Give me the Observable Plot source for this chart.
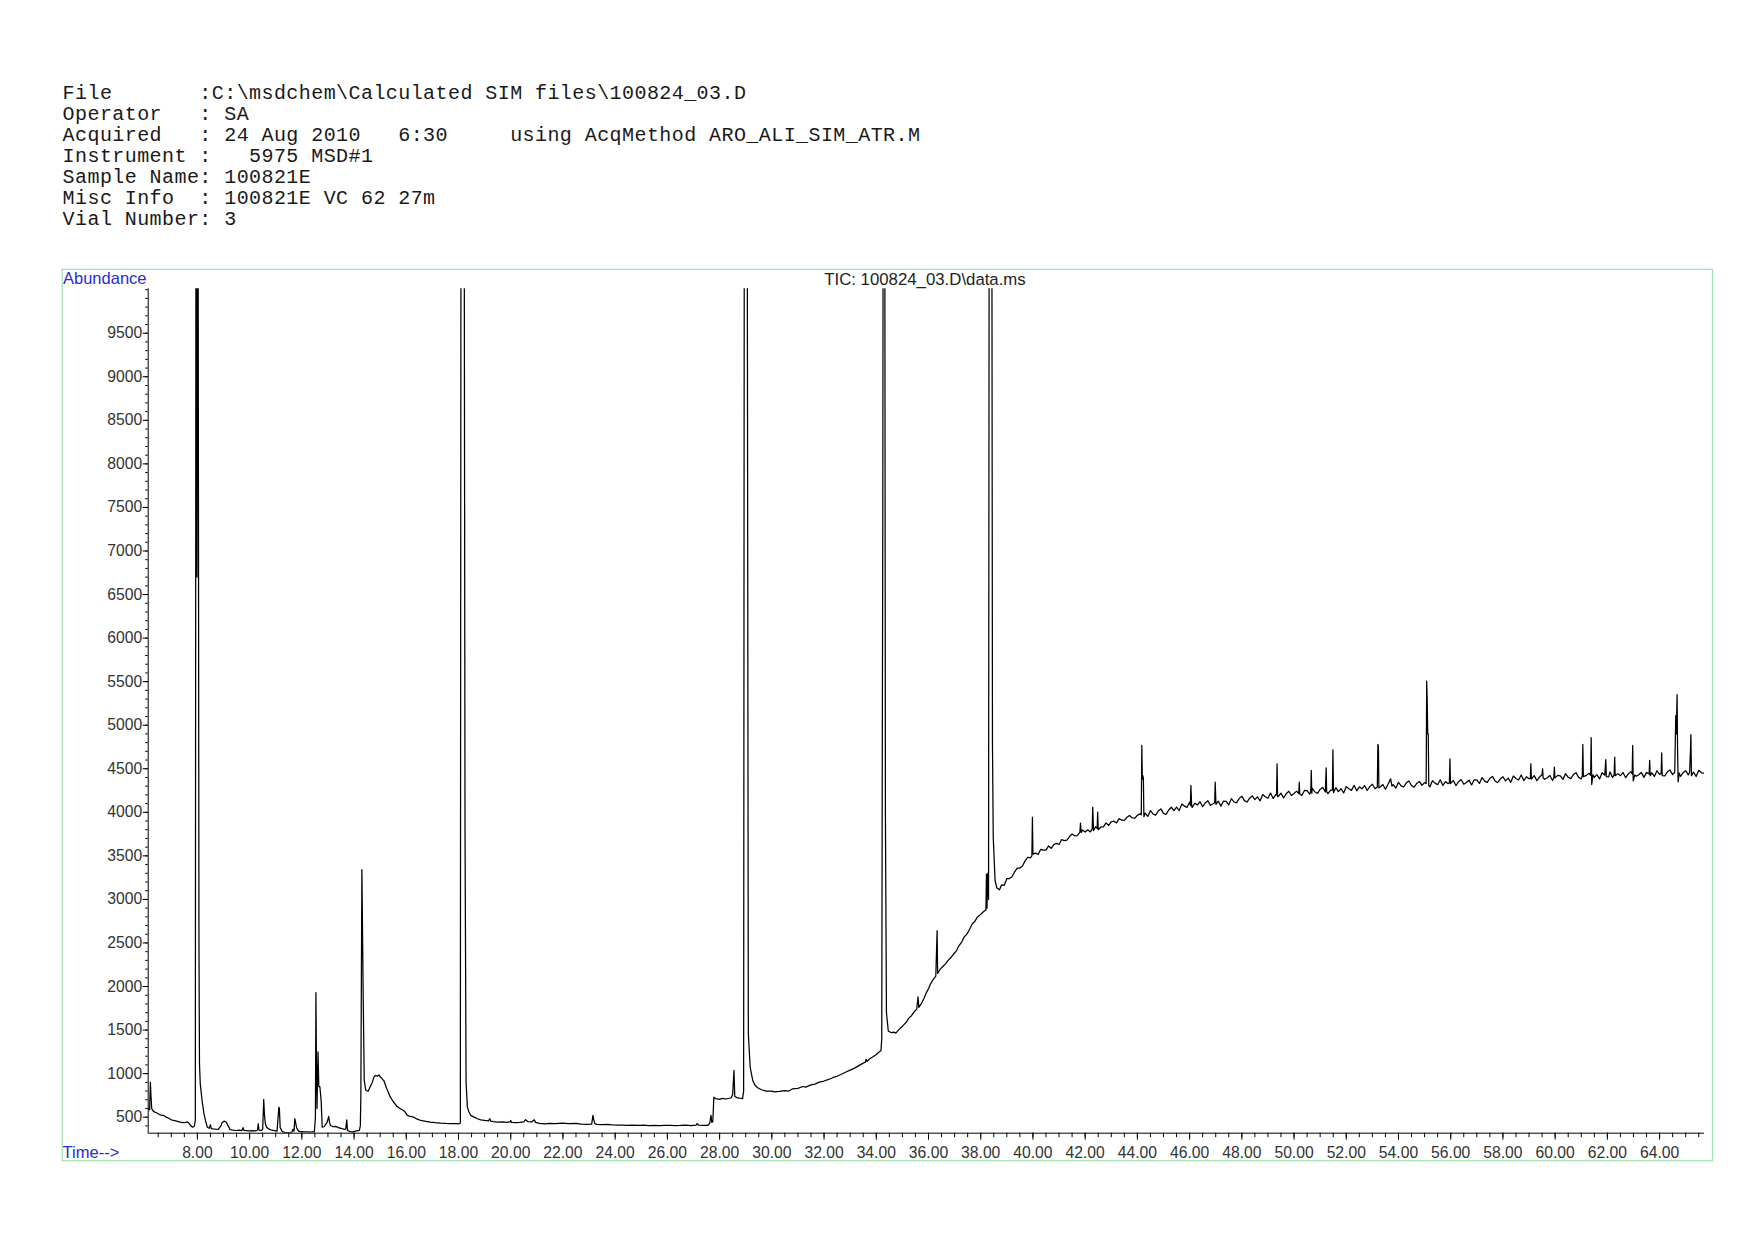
<!DOCTYPE html>
<html>
<head>
<meta charset="utf-8">
<script src="https://cdn.jsdelivr.net/npm/d3@7"></script>
<script src="https://cdn.jsdelivr.net/npm/@observablehq/plot@0.6"></script>
<style>
  html, body { margin: 0; padding: 0; background: #fff; }
  #page { position: relative; width: 1754px; height: 1240px; overflow: hidden; background: #fff; }
  #chart, #overlay { position: absolute; left: 0; top: 0; }
</style>
</head>
<body>
<div id="page">
  <div id="chart"></div>
  <svg id="overlay" width="1754" height="1240"></svg>
</div>
<script>
// ---- header text lines ----
const headerLines = [
  "File       :C:\\msdchem\\Calculated SIM files\\100824_03.D",
  "Operator   : SA",
  "Acquired   : 24 Aug 2010   6:30     using AcqMethod ARO_ALI_SIM_ATR.M",
  "Instrument :   5975 MSD#1",
  "Sample Name: 100821E",
  "Misc Info  : 100821E VC 62 27m",
  "Vial Number: 3"
];
const chartTitle = "TIC: 100824_03.D\\data.ms";
const yAxisName = "Abundance";
const xAxisName = "Time-->";

// ---- axis ticks ----
const xDomain = [6.116, 65.72];
const yDomain = [316, 10010];
const majorX = [8, 10, 12, 14, 16, 18, 20, 22, 24, 26, 28, 30, 32, 34, 36, 38, 40, 42, 44, 46, 48, 50, 52, 54, 56, 58, 60, 62, 64];
const majorY = [500, 1000, 1500, 2000, 2500, 3000, 3500, 4000, 4500, 5000, 5500, 6000, 6500, 7000, 7500, 8000, 8500, 9000, 9500];
const minorX = d3.range(6.5, 65.6, 0.5);
const minorY = d3.range(400, 10001, 100);

// ---- TIC trace: [time (min), abundance] ----
const traceEarly = [
  [6.12,596],[6.17,585],[6.2,902],[6.22,760],[6.25,600],[6.29,577],[6.35,560],[6.45,548],[6.55,530],[6.62,522],
  [6.71,520],[6.8,500],[6.9,488],[7.0,470],[7.1,462],[7.2,455],[7.3,447],[7.35,443],[7.45,438],[7.55,440],
  [7.62,445],[7.68,430],[7.75,400],[7.82,385],[7.88,395],[7.92,460],[7.95,13000],[7.985,6700],[8.02,13000],[8.06,2500],
  [8.08,1113],[8.11,883],[8.18,690],[8.25,540],[8.31,462],[8.38,385],[8.45,372],[8.5,413],[8.53,368],[8.6,365],
  [8.7,362],[8.8,360],[8.9,400],[8.95,440],[9.02,454],[9.1,445],[9.18,400],[9.25,360],[9.35,350],[9.5,347],
  [9.6,350],[9.7,345],[9.75,380],[9.78,348],[9.9,345],[10.0,342],[10.1,345],[10.2,343],[10.3,350],[10.33,424],
  [10.36,350],[10.45,348],[10.5,360],[10.54,703],[10.57,520],[10.6,430],[10.65,385],[10.75,362],[10.85,350],[10.95,345],
  [11.05,340],[11.12,615],[11.14,600],[11.17,380],[11.25,335],[11.35,325],[11.45,322],[11.55,321],[11.62,330],[11.66,360],
  [11.7,340],[11.73,482],[11.76,440],[11.8,380],[11.85,350],[11.9,335],[12.0,333],[12.1,330],[12.2,332],[12.3,328],
  [12.4,330],[12.48,332]
];
const traceMid = [
  [12.52,500],[12.54,1930],[12.56,1100],[12.58,600],[12.62,1250],[12.65,850],[12.69,852],[12.74,690],[12.78,385],[12.85,390],
  [12.92,420],[12.97,443],[13.03,508],[13.06,440],[13.1,405],[13.2,390],[13.3,395],[13.4,380],[13.5,372],[13.56,367],
  [13.62,360],[13.68,362],[13.72,470],[13.75,347],[13.85,335],[13.94,328],[14.05,340],[14.15,345],[14.2,347],[14.24,400],
  [14.26,730],[14.3,3342],[14.35,1900],[14.39,921],[14.45,806],[14.54,798],[14.62,850],[14.7,902],[14.76,960],[14.82,979],
  [14.9,970],[14.95,985],[15.01,960],[15.05,950],[15.1,930],[15.14,921],[15.25,830],[15.39,730],[15.5,680],[15.65,622],
  [15.78,595],[15.9,577],[15.95,560],[16.04,520],[16.15,510],[16.29,500],[16.4,480],[16.55,462],[16.7,455],[16.8,450],
  [16.93,443],[17.1,437],[17.32,431],[17.5,428],[17.7,427],[17.9,425],[18.02,424],[18.07,430],[18.1,13000],[18.21,13000],
  [18.25,3800],[18.29,900],[18.34,615],[18.4,560],[18.47,520]
];
const traceValley = [
  [18.6,500],[18.73,482],[18.85,470],[19.0,462],[19.15,458],[19.2,482],[19.23,455],[19.35,448],[19.5,443],[19.7,445],
  [19.85,440],[19.97,445],[20.0,462],[20.03,440],[20.2,438],[20.35,440],[20.5,445],[20.57,472],[20.65,450],[20.8,445],
  [20.9,470],[20.95,440],[21.1,430],[21.3,424],[21.5,428],[21.7,425],[22.0,431],[22.2,426],[22.5,428],[22.7,420],
  [22.9,418],[23.1,420],[23.15,520],[23.18,470],[23.22,425],[23.3,417],[23.5,415],[23.7,418],[23.9,412],[24.1,410],
  [24.3,408],[24.46,405],[24.7,410],[24.9,406],[25.1,408],[25.3,404],[25.5,406],[25.7,403],[25.9,405],[26.1,407],
  [26.3,404],[26.5,405],[26.7,408],[26.9,404],[27.1,410],[27.14,425],[27.2,408],[27.4,406],[27.55,405],[27.62,430],
  [27.67,520],[27.7,440],[27.74,450],[27.78,730],[27.85,712],[28.0,705],[28.1,715],[28.2,710],[28.3,712],[28.44,720],
  [28.5,760],[28.55,1036],[28.58,740],[28.65,725],[28.75,720],[28.88,712],[28.92,800],[28.95,13000],[29.05,13000],[29.1,1457],
  [29.17,1075],[29.27,921],[29.35,870],[29.46,837],[29.6,815],[29.78,798],[30.0,800],[30.1,790],[30.29,795],[30.5,805],
  [30.65,800],[30.8,826],[31.0,830],[31.18,852],[31.3,845],[31.5,870],[31.65,880],[31.82,902],[32.0,915],[32.15,930],
  [32.33,953],[32.5,970],[32.65,990],[32.84,1018],[33.0,1040],[33.15,1060],[33.35,1095],[33.5,1120],[33.58,1130],[33.61,1165],
  [33.65,1140],[33.75,1170],[33.86,1190],[34.0,1220],[34.1,1245],[34.18,1266]
];
const traceRise = [
  [34.21,1400],[34.23,4600],[34.25,7400],[34.27,13000],[34.32,13000],[34.35,4000],[34.39,1700],[34.46,1490],[34.58,1470],[34.67,1476],
  [34.75,1465],[34.85,1500],[34.95,1530],[35.05,1560],[35.15,1590],[35.25,1640],[35.35,1665],[35.44,1705],[35.55,1740],[35.6,1880],
  [35.63,1760],[35.72,1800],[35.82,1860],[35.92,1930],[36.0,1975],[36.08,2031],[36.18,2080],[36.28,2120],[36.33,2643],[36.35,2150],
  [36.45,2200],[36.55,2230],[36.65,2260],[36.75,2300],[36.85,2330],[36.97,2376],[37.07,2410],[37.17,2470],[37.27,2510],[37.37,2570],
  [37.48,2605],[37.58,2660],[37.68,2720],[37.78,2750],[37.87,2796],[37.97,2820],[38.07,2850],[38.15,2870],[38.2,2880],[38.22,3290],
  [38.24,2900],[38.27,3300],[38.3,3000],[38.33,13000],[38.42,13000],[38.45,4786],[38.48,3714],[38.55,3217],[38.62,3130],[38.72,3110]
];
const tracePlateau = [
  [38.8,3168],[38.9,3160],[39.0,3239],[39.1,3240],[39.2,3260],[39.3,3317],[39.4,3360],[39.5,3360],[39.6,3383],[39.7,3443],
  [39.8,3484],[39.9,3478],[39.96,3500],[39.98,3944],[40.0,3520],[40.1,3531],[40.2,3515],[40.3,3575],[40.4,3566],[40.5,3566],
  [40.6,3614],[40.7,3587],[40.8,3630],[40.9,3643],[41.0,3630],[41.1,3687],[41.2,3675],[41.3,3681],[41.4,3722],[41.5,3750],
  [41.6,3730],[41.7,3733],[41.8,3773],[41.82,3876],[41.85,3770],[41.9,3796],[42.0,3773],[42.1,3799],[42.2,3775],[42.27,3810],
  [42.29,4059],[42.32,3790],[42.4,3834],[42.46,3815],[42.48,4001],[42.5,3800],[42.6,3831],[42.7,3833],[42.8,3879],[42.9,3849],
  [43.0,3890],[43.1,3898],[43.2,3878],[43.3,3928],[43.4,3909],[43.5,3907],[43.6,3942],[43.7,3963],[43.8,3936],[43.9,3932],
  [44.0,3965],[44.1,3984],[44.15,3970],[44.17,4767],[44.19,4380],[44.21,4420],[44.23,4390],[44.25,3950],[44.3,3990],[44.4,3952],
  [44.5,4020],[44.6,3981],[44.7,3967],[44.8,4015],[44.9,4039],[45.0,3988],[45.1,3977],[45.2,4026],[45.3,4058],[45.4,4020],
  [45.5,4060],[45.6,4019],[45.7,4094],[45.8,4071],[45.9,4056],[46.0,4117],[46.03,4080],[46.05,4308],[46.08,4070],[46.1,4056],
  [46.2,4104],[46.3,4084],[46.4,4122],[46.5,4064],[46.6,4108],[46.7,4133],[46.8,4080],[46.9,4098],[46.96,4110],[46.98,4346],
  [47.01,4090],[47.1,4127],[47.2,4071],[47.3,4129],[47.4,4125],[47.5,4086],[47.6,4157],[47.7,4120],[47.8,4109],[47.9,4160],
  [48.0,4185],[48.1,4134],[48.2,4118],[48.3,4162],[48.4,4189],[48.5,4145],[48.6,4178],[48.7,4131],[48.8,4204],[48.9,4179],
  [49.0,4162],[49.1,4221],[49.2,4158],[49.3,4204],[49.33,4200],[49.35,4557],[49.37,4180],[49.4,4182],[49.5,4220],[49.6,4165],
  [49.7,4213],[49.8,4242],[49.9,4193],[50.0,4215],[50.1,4243],[50.18,4215],[50.2,4346],[50.22,4210],[50.3,4192],[50.4,4251],
  [50.5,4248],[50.6,4208],[50.64,4240],[50.66,4480],[50.68,4220],[50.7,4275],[50.8,4233],[50.9,4218],[51.0,4265],[51.1,4286],
  [51.2,4233],[51.23,4511],[51.25,4235],[51.3,4214],[51.4,4255],[51.47,4255],[51.49,4717],[51.51,4225],[51.6,4283],[51.7,4238],
  [51.8,4270],[51.9,4222],[52.0,4295],[52.1,4270],[52.2,4252],[52.3,4310],[52.4,4247],[52.5,4292],[52.6,4270],[52.7,4307],
  [52.8,4250],[52.9,4295],[53.0,4322],[53.1,4270],[53.19,4290],[53.21,4779],[53.23,4760],[53.25,4280],[53.3,4291],[53.4,4319],
  [53.5,4264],[53.6,4322],[53.7,4384],[53.75,4300],[53.8,4319],[53.9,4278],[54.0,4345],[54.1,4304],[54.2,4290],[54.3,4338],
  [54.4,4360],[54.5,4307],[54.6,4289],[54.7,4331],[54.8,4355],[54.9,4309],[55.0,4340],[55.06,4330],[55.08,5505],[55.1,5283],
  [55.12,4900],[55.14,4900],[55.16,4310],[55.2,4291],[55.3,4362],[55.4,4335],[55.5,4317],[55.6,4374],[55.7,4309],[55.8,4353],
  [55.9,4329],[55.95,4340],[55.97,4614],[55.99,4330],[56.1,4366],[56.2,4307],[56.3,4351],[56.4,4376],[56.5,4323],[56.6,4342],
  [56.7,4369],[56.8,4314],[56.9,4373],[57.0,4372],[57.1,4332],[57.2,4399],[57.3,4358],[57.4,4343],[57.5,4390],[57.6,4412],
  [57.7,4359],[57.8,4341],[57.9,4383],[58.0,4408],[58.1,4361],[58.2,4393],[58.3,4344],[58.4,4416],[58.5,4389],[58.6,4371],
  [58.7,4428],[58.8,4364],[58.9,4408],[59.0,4385],[59.05,4390],[59.07,4557],[59.09,4380],[59.2,4421],[59.3,4362],[59.4,4406],
  [59.5,4432],[59.52,4500],[59.54,4395],[59.6,4379],[59.7,4397],[59.8,4423],[59.9,4366],[59.95,4400],[59.97,4520],[59.99,4395],
  [60.1,4424],[60.2,4419],[60.3,4378],[60.4,4444],[60.5,4402],[60.6,4387],[60.7,4433],[60.8,4455],[60.9,4401],[61.0,4383],
  [61.04,4420],[61.06,4779],[61.08,4410],[61.2,4424],[61.3,4448],[61.36,4425],[61.38,4856],[61.4,4320],[61.45,4430],[61.5,4401],
  [61.6,4432],[61.7,4383],[61.8,4454],[61.9,4426],[61.94,4606],[61.96,4410],[62.05,4407],[62.1,4464],[62.2,4399],[62.26,4430],
  [62.28,4633],[62.3,4420],[62.4,4444],[62.5,4420],[62.6,4456],[62.7,4397],[62.8,4441],[62.9,4466],[62.95,4440],[62.97,4767],
  [62.99,4360],[63.05,4430],[63.1,4414],[63.2,4432],[63.3,4458],[63.4,4401],[63.5,4458],[63.6,4440],[63.62,4595],[63.64,4420],
  [63.7,4453],[63.8,4412],[63.9,4477],[64.0,4435],[64.06,4445],[64.08,4683],[64.1,4420],[64.2,4419],[64.3,4465],[64.4,4486],
  [64.5,4432],[64.58,4460],[64.62,5110],[64.64,4900],[64.67,5352],[64.69,4700],[64.71,4350],[64.75,4450],[64.8,4413],[64.9,4454],
  [65.0,4478],[65.1,4430],[65.15,4460],[65.18,4690],[65.2,4893],[65.22,4420],[65.3,4461],[65.4,4411],[65.5,4482],[65.6,4454],
  [65.72,4450]
];

const trace = [...traceEarly, ...traceMid, ...traceValley, ...traceRise, ...tracePlateau]
  .map(([t, a]) => ({time: t, abundance: a}));

// ---- chart ----
const chart = Plot.plot({
  width: 1754,
  height: 1240,
  marginLeft: 147.7,
  marginRight: 50,
  marginTop: 288.3,
  marginBottom: 107.3,
  x: {domain: xDomain, label: null},
  y: {domain: yDomain, label: null},
  style: {background: "transparent", fontFamily: "'Liberation Sans', Arial, sans-serif", fontSize: "15.7px", color: "#000"},
  marks: [
    Plot.axisX({ticks: minorX, tickSize: 4.5, tickFormat: () => "", label: null}),
    Plot.axisX({ticks: majorX, tickSize: 7, tickPadding: 7, tickFormat: d => d.toFixed(2), label: null, fill: "#333"}),
    Plot.axisY({ticks: minorY, tickSize: 2.5, tickFormat: () => "", label: null}),
    Plot.axisY({ticks: majorY, tickSize: 5, tickPadding: 1, tickFormat: d => String(d), label: null, fill: "#333"}),
    Plot.ruleY([yDomain[0]], {stroke: "#000", strokeWidth: 1}),
    Plot.ruleX([xDomain[0]], {stroke: "#000", strokeWidth: 1}),
    Plot.line(trace, {x: "time", y: "abundance", stroke: "#000", strokeWidth: 1.25, clip: true})
  ]
});
document.getElementById("chart").appendChild(chart);

// ---- overlay: header block, green frame, labels ----
const ov = d3.select("#overlay");
const hdr = ov.append("g")
  .attr("font-family", "'Liberation Mono', 'DejaVu Sans Mono', monospace")
  .attr("font-size", 20)
  .attr("letter-spacing", 0.43)
  .attr("fill", "#1a1a1a");
headerLines.forEach((line, i) => {
  hdr.append("text")
    .attr("x", 62.6)
    .attr("y", 99.3 + i * 20.88)
    .attr("xml:space", "preserve")
    .style("white-space", "pre")
    .text(line);
});
ov.append("rect")
  .attr("x", 62.2).attr("y", 269.3)
  .attr("width", 1650.3).attr("height", 891.4)
  .attr("fill", "none").attr("stroke", "#a4e4b0").attr("stroke-width", 1.3);
const lab = ov.append("g").attr("font-family", "'Liberation Sans', Arial, sans-serif").attr("font-size", 16.5);
lab.append("text").attr("x", 63).attr("y", 284).attr("fill", "#2a2ad6").text(yAxisName);
lab.append("text").attr("x", 62.6).attr("y", 1158).attr("fill", "#2a2ad6").text(xAxisName);
lab.append("text").attr("x", 925).attr("y", 285).attr("text-anchor", "middle").attr("font-size", 16.8).attr("fill", "#222").text(chartTitle);
</script>
</body>
</html>
